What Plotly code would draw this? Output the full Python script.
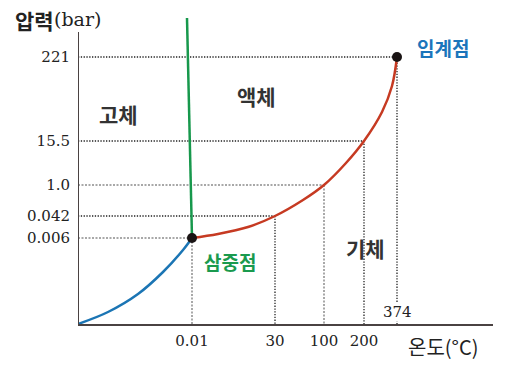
import plotly.graph_objects as go

# Schematic phase diagram of water (positions are schematic axis units)
temp_labels = ["0.01", "30", "100", "200", "374"]
temp_pos = [114, 197, 246, 286, 319]
pressure_labels = ["0.006", "0.042", "1.0", "15.5", "221"]
pressure_pos = [86, 108, 139, 183, 267]

# sublimation curve (solid-gas)
sub_x = [0, 30, 60, 85, 105, 114]
sub_y = [0, 12, 30, 52, 74, 86]
# vaporization curve (liquid-gas)
vap_x = [114, 140, 170, 197, 225, 246, 268, 286, 304, 314, 319]
vap_y = [86, 90, 97, 108, 124, 139, 161, 183, 212, 238, 267]
# fusion curve (solid-liquid)
fus_x = [109, 114]
fus_y = [306, 86]

region_labels = ["고체", "액체", "기체"]
region_x = [40, 178, 287]
region_y = [210, 228, 76]

guide_styles = ["gray", "black", "gray", "black", "black"]

SERIF = "DejaVu Serif"
KR = "Noto Sans CJK KR"

# page pixel geometry (browser body has an 8px default margin)
W, H = 514, 377
OFF = 8
L, R, T, B = 78 - OFF, 21 + OFF, 18 - OFF, 53 + OFF

fig = go.Figure()

shapes = []
for i, (tx, py) in enumerate(zip(temp_pos, pressure_pos)):
    if guide_styles[i] == "gray":
        ln = dict(color="#a8a8a8", width=2, dash="2px,1.5px")
    else:
        ln = dict(color="#222222", width=1.3, dash="1.3px,1.5px")
    shapes.append(dict(type="line", xref="x", yref="y", x0=0, y0=py, x1=tx, y1=py, line=ln, layer="below"))
    shapes.append(dict(type="line", xref="x", yref="y", x0=tx, y0=py, x1=tx, y1=0, line=ln, layer="below"))
# y axis line
shapes.append(dict(type="line", xref="x", yref="y", x0=0, y0=0, x1=0, y1=292,
                   line=dict(color="#4a4242", width=2)))

fig.add_trace(go.Scatter(x=sub_x, y=sub_y, mode="lines", line=dict(color="#1b75b4", width=2.5, shape="spline"),
                         hoverinfo="skip", showlegend=False))
fig.add_trace(go.Scatter(x=vap_x, y=vap_y, mode="lines", line=dict(color="#c63a22", width=2.5, shape="spline"),
                         hoverinfo="skip", showlegend=False))
fig.add_trace(go.Scatter(x=fus_x, y=fus_y, mode="lines", line=dict(color="#17984c", width=2.5),
                         hoverinfo="skip", showlegend=False))
fig.add_trace(go.Scatter(x=[temp_pos[0], temp_pos[-1]], y=[pressure_pos[0], pressure_pos[-1]], mode="markers",
                         marker=dict(color="#1a1414", size=10), hoverinfo="skip", showlegend=False))

annotations = []
for t, x, y in zip(region_labels, region_x, region_y):
    annotations.append(dict(x=x, y=y, xref="x", yref="y", text=t, showarrow=False,
                            font=dict(family=KR, size=21, color="#333333", weight="bold")))
annotations.append(dict(x=temp_pos[0] + 38, y=pressure_pos[0] - 23, xref="x", yref="y", text="삼중점",
                        showarrow=False, font=dict(family=KR, size=19, color="#1a9a4e", weight="bold")))
annotations.append(dict(x=temp_pos[-1] + 46, y=pressure_pos[-1] + 10, xref="x", yref="y", text="임계점",
                        showarrow=False, font=dict(family=KR, size=19, color="#1b75bb", weight="bold")))
annotations.append(dict(x=temp_pos[-1], y=0, xref="x", yref="y", yanchor="bottom", yshift=2,
                        text=temp_labels[-1], showarrow=False, bgcolor="white", borderpad=0,
                        font=dict(family=SERIF, size=15, color="#222222")))


def px_to_paper(px, py):
    return (px - OFF - L) / (W - L - R), 1 - (py - OFF - T) / (H - T - B)


ax, ay = px_to_paper(34, 20)
annotations.append(dict(x=ax, y=ay, xref="paper", yref="paper", xanchor="center", yanchor="middle",
                        text="압력", showarrow=False, borderpad=0,
                        font=dict(family=KR, size=21, color="#222222", weight="bold")))
bx, by = px_to_paper(53, 19)
annotations.append(dict(x=bx, y=by, xref="paper", yref="paper", xanchor="left", yanchor="middle",
                        text="(bar)", showarrow=False, borderpad=0,
                        font=dict(family=SERIF, size=19, color="#222222")))
tx_, ty_ = px_to_paper(443, 346)
annotations.append(dict(x=tx_, y=ty_, xref="paper", yref="paper", xanchor="center", yanchor="middle",
                        text="온도(°C)", showarrow=False, font=dict(family=KR, size=20, color="#222222")))

fig.update_layout(
    width=W, height=H,
    margin=dict(l=L, r=R, t=T, b=B, autoexpand=False),
    paper_bgcolor="white", plot_bgcolor="white",
    shapes=shapes, annotations=annotations,
    xaxis=dict(range=[0, 415], showgrid=False, zeroline=False, showline=True, linecolor="#4a4242", linewidth=2,
               tickmode="array", tickvals=temp_pos[:-1], ticktext=temp_labels[:-1], ticks="",
               ticklabelstandoff=2, tickfont=dict(family=SERIF, size=15, color="#222222")),
    yaxis=dict(range=[0, 306], showgrid=False, zeroline=False, showline=False,
               tickmode="array", tickvals=pressure_pos, ticktext=pressure_labels, ticks="",
               ticklabelstandoff=7, tickfont=dict(family=SERIF, size=15, color="#222222")),
)

fig.write_html("out.html")
